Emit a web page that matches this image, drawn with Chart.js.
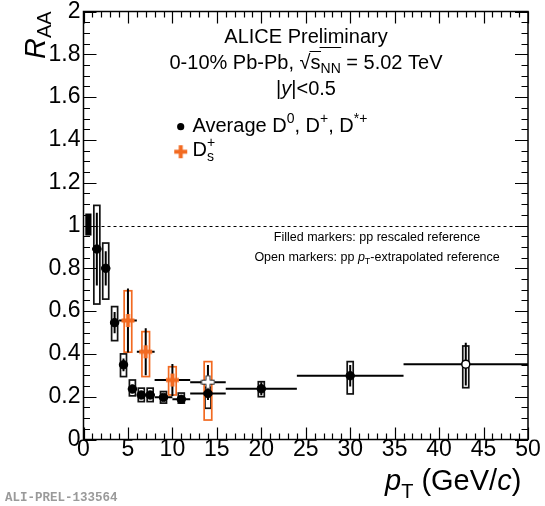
<!DOCTYPE html>
<html>
<head>
<meta charset="utf-8">
<script src="https://cdn.jsdelivr.net/npm/chart.js@4.4.1/dist/chart.umd.min.js"></script>
<style>
  html, body { margin: 0; padding: 0; background: #fff; }
  canvas { display: block; }
</style>
</head>
<body>
<canvas id="raa" width="545" height="506"></canvas>
<script>
// Average D0, D+, D*+  (last bin: open marker, pT-extrapolated pp reference)
const dPt     = [1.5, 2.5, 3.5, 4.5, 5.5, 6.5, 7.5, 9, 11, 14, 20, 30, 43];
const dBinLo  = [1, 2, 3, 4, 5, 6, 7, 8, 10, 12, 16, 24, 36];
const dBinHi  = [2, 3, 4, 5, 6, 7, 8, 10, 12, 16, 24, 36, 50];
const dRaa    = [0.89, 0.80, 0.546, 0.349, 0.236, 0.208, 0.208, 0.197, 0.188, 0.215, 0.237, 0.298, 0.352];
const dStat   = [0.17, 0.08, 0.05, 0.03, 0.02, 0.015, 0.015, 0.015, 0.015, 0.03, 0.03, 0.05, 0.1];
const dSystLo = [0.633, 0.656, 0.462, 0.294, 0.204, 0.177, 0.177, 0.17, 0.17, 0.146, 0.2, 0.213, 0.242];
const dSystHi = [1.094, 0.918, 0.621, 0.40, 0.278, 0.24, 0.24, 0.224, 0.217, 0.244, 0.27, 0.364, 0.437];
const dOpen   = [false, false, false, false, false, false, false, false, false, false, false, false, true];

// Ds+
const dsPt     = [5, 7, 10, 14];
const dsBinLo  = [4, 6, 8, 12];
const dsBinHi  = [6, 8, 12, 16];
const dsRaa    = [0.556, 0.41, 0.278, 0.268];
const dsStat   = [0.15, 0.11, 0.075, 0.08];
const dsSystLo = [0.408, 0.294, 0.208, 0.091];
const dsSystHi = [0.695, 0.504, 0.34, 0.364];
const dsOpen   = [false, false, false, true];

// normalisation uncertainty box at RAA = 1
const normLo = 0.953, normHi = 1.056;
const normPtLo = 0.2, normPtHi = 0.9;

const xTicks = [0, 5, 10, 15, 20, 25, 30, 35, 40, 45, 50];
const yTicks = [0, 0.2, 0.4, 0.6, 0.8, 1, 1.2, 1.4, 1.6, 1.8, 2];

const ORANGE = '#f26a21';
const FONT = '"Liberation Sans", Arial, sans-serif';

function crossImg(fill, stroke) {
  const c = document.createElement('canvas');
  c.width = c.height = 15;
  const g = c.getContext('2d');
  const a = 5, b = 10, e = 14;
  g.beginPath();
  g.moveTo(a + 0.5, 1); g.lineTo(b - 0.5, 1); g.lineTo(b - 0.5, a + 0.5); g.lineTo(e, a + 0.5);
  g.lineTo(e, b - 0.5); g.lineTo(b - 0.5, b - 0.5); g.lineTo(b - 0.5, e); g.lineTo(a + 0.5, e);
  g.lineTo(a + 0.5, b - 0.5); g.lineTo(1, b - 0.5); g.lineTo(1, a + 0.5); g.lineTo(a + 0.5, a + 0.5);
  g.closePath();
  g.fillStyle = fill; g.fill();
  if (stroke) { g.strokeStyle = stroke; g.lineWidth = 1; g.stroke(); }
  return c;
}

function pick(xs, ys, flags, want) {
  const out = [];
  xs.forEach((v, i) => { if (flags[i] === want) out.push({ x: v, y: ys[i] }); });
  return out;
}

// draw a run of text pieces (sizes, italics, sub/superscripts)
function rich(ctx, x, y, parts, align) {
  let w = 0;
  parts.forEach(p => {
    ctx.font = (p.it ? 'italic ' : '') + p.size + 'px ' + FONT;
    p.w = p.noAdv ? 0 : ctx.measureText(p.t).width;
    p.tw = ctx.measureText(p.t).width;
    w += p.w;
  });
  let cx = align === 'center' ? x - w / 2 : align === 'right' ? x - w : x;
  ctx.textBaseline = 'alphabetic';
  ctx.textAlign = 'left';
  parts.forEach(p => {
    ctx.font = (p.it ? 'italic ' : '') + p.size + 'px ' + FONT;
    ctx.fillText(p.t, cx, y + (p.dy || 0));
    if (p.bar) {
      ctx.beginPath();
      ctx.lineWidth = 1;
      ctx.moveTo(cx - 1, y - p.bar); ctx.lineTo(cx + p.tw + 0.5, y - p.bar);
      ctx.stroke();
    }
    cx += p.w;
  });
}

const rootPlot = {
  id: 'rootPlot',
  beforeDatasetsDraw(chart) {
    const { ctx, chartArea: a, scales: { x, y } } = chart;
    ctx.save();
    // dashed reference at 1
    ctx.strokeStyle = '#000';
    ctx.lineWidth = 1;
    ctx.setLineDash([3, 3]);
    ctx.beginPath();
    ctx.moveTo(a.left, Math.round(y.getPixelForValue(1)) + 0.5);
    ctx.lineTo(a.right, Math.round(y.getPixelForValue(1)) + 0.5);
    ctx.stroke();
    ctx.setLineDash([]);

    // normalisation box
    ctx.fillStyle = '#000';
    const nx0 = x.getPixelForValue(normPtLo), nx1 = x.getPixelForValue(normPtHi);
    const ny0 = y.getPixelForValue(normHi), ny1 = y.getPixelForValue(normLo);
    ctx.fillRect(nx0, ny0, nx1 - nx0, ny1 - ny0);

    // systematic boxes
    const boxes = (pts, lo, hi, half, col) => {
      ctx.strokeStyle = col;
      ctx.lineWidth = 1.7;
      pts.forEach((p, i) => {
        const px = x.getPixelForValue(p);
        const y0 = y.getPixelForValue(hi[i]), y1 = y.getPixelForValue(lo[i]);
        ctx.strokeRect(px - half, y0, half * 2, y1 - y0);
      });
    };
    boxes(dPt, dSystLo, dSystHi, 3, '#111');
    boxes(dsPt, dsSystLo, dsSystHi, 3.8, ORANGE);

    // statistical bars + bin widths
    const bars = (pts, vals, st, lo, hi) => {
      ctx.strokeStyle = '#000';
      ctx.lineWidth = 2;
      pts.forEach((p, i) => {
        const px = x.getPixelForValue(p), py = y.getPixelForValue(vals[i]);
        ctx.beginPath();
        ctx.moveTo(px, y.getPixelForValue(vals[i] + st[i]));
        ctx.lineTo(px, y.getPixelForValue(vals[i] - st[i]));
        ctx.moveTo(x.getPixelForValue(lo[i]), py);
        ctx.lineTo(x.getPixelForValue(hi[i]), py);
        ctx.stroke();
      });
    };
    bars(dPt, dRaa, dStat, dBinLo, dBinHi);
    bars(dsPt, dsRaa, dsStat, dsBinLo, dsBinHi);
    ctx.restore();
  },
  afterDraw(chart) {
    const { ctx, chartArea: a, scales: { x, y } } = chart;
    ctx.save();
    ctx.strokeStyle = '#000';
    ctx.lineWidth = 1.5;
    ctx.strokeRect(a.left, a.top, a.right - a.left, a.bottom - a.top);

    // inward ticks on all four sides
    ctx.lineWidth = 1.2;
    ctx.beginPath();
    for (let v = 0; v <= 50.001; v += 1) {
      const len = Math.abs(v % 5) < 1e-6 ? 12 : 6;
      const px = Math.round(x.getPixelForValue(v)) + 0.5;
      ctx.moveTo(px, a.bottom); ctx.lineTo(px, a.bottom - len);
      ctx.moveTo(px, a.top); ctx.lineTo(px, a.top + len);
    }
    for (let k = 0; k <= 40; k++) {
      const v = k * 0.05;
      const len = k % 4 === 0 ? 13 : 6.5;
      const py = Math.round(y.getPixelForValue(v)) + 0.5;
      ctx.moveTo(a.left, py); ctx.lineTo(a.left + len, py);
      ctx.moveTo(a.right, py); ctx.lineTo(a.right - len, py);
    }
    ctx.stroke();

    ctx.fillStyle = '#000';
    ctx.strokeStyle = '#000';
    // header
    rich(ctx, 306, 42.5, [{ t: 'ALICE Preliminary', size: 20 }], 'center');
    rich(ctx, 306, 68.5, [
      { t: '0-10% Pb-Pb, ', size: 20 },
      { t: '\u221A', size: 20 },
      { t: 's', size: 20, bar: 17 },
      { t: 'NN', size: 14, dy: 4, bar: 21 },
      { t: ' = 5.02 TeV', size: 20 }
    ], 'center');
    rich(ctx, 306, 95, [
      { t: '|', size: 20 }, { t: 'y', size: 20, it: true }, { t: '|<0.5', size: 20 }
    ], 'center');

    // legend
    ctx.beginPath();
    ctx.arc(180.7, 126.7, 3.6, 0, Math.PI * 2);
    ctx.fill();
    rich(ctx, 192.5, 131.5, [
      { t: 'Average D', size: 20 }, { t: '0', size: 14, dy: -9 },
      { t: ', D', size: 20 }, { t: '+', size: 14, dy: -9 },
      { t: ', D', size: 20 }, { t: '*+', size: 14, dy: -9 }
    ]);
    ctx.drawImage(crossImg(ORANGE), 180.7 - 7.5, 151.7 - 7.5);
    ctx.fillStyle = '#000';
    rich(ctx, 192.5, 155.5, [
      { t: 'D', size: 20 }, { t: '+', size: 14, dy: -9, noAdv: true }, { t: 's', size: 14, dy: 5 }
    ]);

    // reference notes
    rich(ctx, 377, 241, [{ t: 'Filled markers: pp rescaled reference', size: 12.5 }], 'center');
    rich(ctx, 377, 261, [
      { t: 'Open markers: pp ', size: 12.5 }, { t: 'p', size: 12.5, it: true },
      { t: 'T', size: 9, dy: 3 }, { t: '-extrapolated reference', size: 12.5 }
    ], 'center');

    // axis titles
    rich(ctx, 385, 490, [
      { t: 'p', size: 29, it: true }, { t: 'T', size: 20, dy: 8 }, { t: ' (GeV/', size: 29 },
      { t: 'c', size: 29, it: true }, { t: ')', size: 29 }
    ]);
    ctx.save();
    ctx.translate(45, 59);
    ctx.rotate(-Math.PI / 2);
    rich(ctx, 0, 0, [{ t: 'R', size: 29, it: true }, { t: 'AA', size: 20, dy: 6 }]);
    ctx.restore();

    // preliminary id
    ctx.font = 'bold 12.5px "Liberation Mono", "DejaVu Sans Mono", monospace';
    ctx.fillStyle = '#9a9a9a';
    ctx.textAlign = 'left';
    ctx.fillText('ALI-PREL-133564', 5, 501);
    ctx.restore();
  }
};

new Chart(document.getElementById('raa').getContext('2d'), {
  type: 'scatter',
  data: {
    datasets: [
      {
        label: 'Average D0, D+, D*+',
        data: pick(dPt, dRaa, dOpen, false),
        pointStyle: 'circle', pointRadius: 4.2,
        backgroundColor: '#000', borderColor: '#000', borderWidth: 1
      },
      {
        label: 'Average D0, D+, D*+ (open)',
        data: pick(dPt, dRaa, dOpen, true),
        pointStyle: 'circle', pointRadius: 4,
        backgroundColor: '#fff', borderColor: '#000', borderWidth: 1.5
      },
      {
        label: 'Ds+',
        data: pick(dsPt, dsRaa, dsOpen, false),
        pointStyle: crossImg(ORANGE)
      },
      {
        label: 'Ds+ (open)',
        data: pick(dsPt, dsRaa, dsOpen, true),
        pointStyle: crossImg('#fff', '#222')
      }
    ]
  },
  options: {
    responsive: false,
    devicePixelRatio: 1,
    animation: false,
    layout: { padding: { top: 11.5, right: 17, bottom: 0, left: 0 } },
    plugins: { legend: { display: false }, tooltip: { enabled: false } },
    scales: {
      x: {
        type: 'linear', min: 0, max: 50,
        grid: { display: false, drawTicks: false },
        border: { display: false },
        afterBuildTicks: s => { s.ticks = xTicks.map(v => ({ value: v })); },
        ticks: {
          color: '#000', padding: -1, maxRotation: 0, autoSkip: false,
          font: { family: FONT, size: 23, lineHeight: 1 }
        },
        afterFit: s => { s.height = 66.5; s.paddingLeft = 0; s.paddingRight = 0; }
      },
      y: {
        min: 0, max: 2,
        grid: { display: false, drawTicks: false },
        border: { display: false },
        afterBuildTicks: s => { s.ticks = yTicks.map(v => ({ value: v })); },
        ticks: {
          color: '#000', padding: 3, autoSkip: false,
          font: { family: FONT, size: 23, lineHeight: 1 },
          callback: v => String(+v.toFixed(1))
        },
        afterFit: s => { s.width = 83.5; s.paddingTop = 0; s.paddingBottom = 0; }
      }
    }
  },
  plugins: [rootPlot]
});
</script>
</body>
</html>
